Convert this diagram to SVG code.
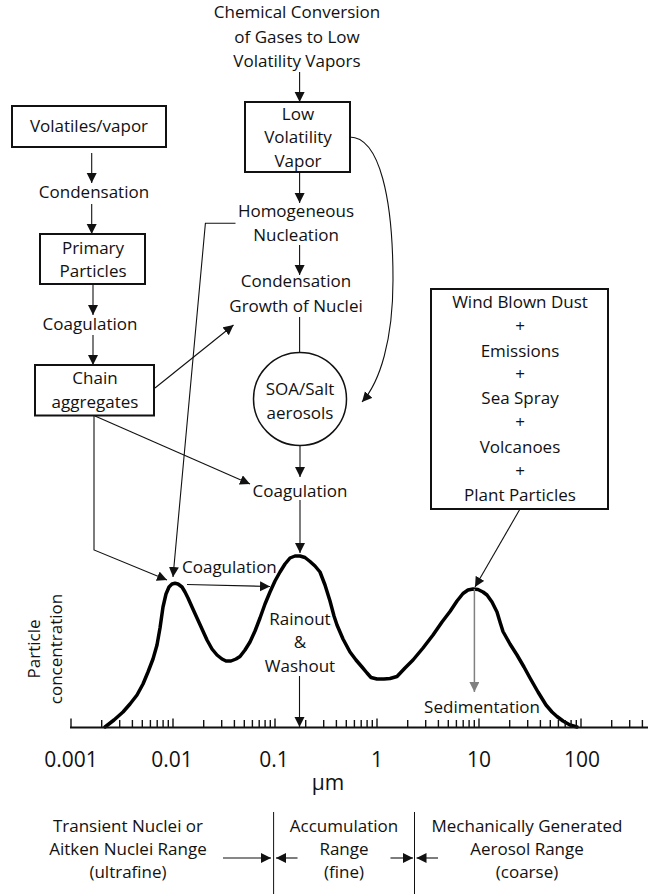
<svg xmlns="http://www.w3.org/2000/svg" width="648" height="894" viewBox="0 0 648 894">
<style>
.t{font-family:"Open Sans","Liberation Sans",sans-serif;font-size:17px;fill:#111;text-anchor:middle}
.s{text-anchor:start}
.num{font-size:21px}
.box{fill:#fff;stroke:#111;stroke-width:2}
.c{fill:none;stroke:#111;stroke-width:1.1}
.ca{fill:none;stroke:#111;stroke-width:1.1;marker-end:url(#ah)}
.g{fill:none;stroke:#808080;stroke-width:1.5;marker-end:url(#ahg)}
.curve{fill:none;stroke:#000;stroke-width:3.5;stroke-linejoin:round;stroke-linecap:round}
</style>
<defs>
<marker id="ah" markerUnits="userSpaceOnUse" markerWidth="10" markerHeight="11" refX="10" refY="5" orient="auto"><path d="M0,0 L10,5 L0,10 z" fill="#111"/></marker>
<marker id="ahg" markerUnits="userSpaceOnUse" markerWidth="10" markerHeight="11" refX="10" refY="5" orient="auto"><path d="M0,0 L10,5 L0,10 z" fill="#808080"/></marker>
</defs>
<rect width="648" height="894" fill="#fff"/>

<g id="chem-conversion">
<text class="t" x="297" y="18">Chemical Conversion</text>
<text class="t" x="297" y="43">of Gases to Low</text>
<text class="t" x="297" y="67">Volatility Vapors</text>
</g>
<g id="low-volatility-vapor">
<rect class="box" x="245" y="102" width="105" height="70"/>
<text class="t" x="298" y="120">Low</text>
<text class="t" x="298" y="143">Volatility</text>
<text class="t" x="298" y="167">Vapor</text>
</g>
<g id="homogeneous-nucleation">
<text class="t" x="296" y="217">Homogeneous</text>
<text class="t" x="296" y="241">Nucleation</text>
</g>
<g id="condensation-growth">
<text class="t" x="296" y="287">Condensation</text>
<text class="t" x="296" y="312">Growth of Nuclei</text>
</g>
<g id="volatiles-vapor">
<rect class="box" x="12" y="106" width="154" height="41"/>
<text class="t" x="89" y="132">Volatiles/vapor</text>
</g>
<g id="condensation-left">
<text class="t" x="94" y="198">Condensation</text>
</g>
<g id="primary-particles">
<rect class="box" x="40" y="234" width="105" height="50"/>
<text class="t" x="93" y="254">Primary</text>
<text class="t" x="93" y="277">Particles</text>
</g>
<g id="coagulation-left">
<text class="t" x="90" y="330">Coagulation</text>
</g>
<g id="chain-aggregates">
<rect class="box" x="35" y="365" width="119" height="50.5"/>
<text class="t" x="95" y="384">Chain</text>
<text class="t" x="95" y="408">aggregates</text>
</g>
<g id="soa-salt">
<circle cx="300" cy="399" r="46.5" fill="#fff" stroke="#111" stroke-width="1.5"/>
<text class="t" x="300" y="395">SOA/Salt</text>
<text class="t" x="300" y="419">aerosols</text>
</g>
<g id="coagulation-mid">
<text class="t" x="300" y="497">Coagulation</text>
</g>
<g id="sources">
<rect class="box" x="431" y="289" width="177" height="220"/>
<text class="t" x="520" y="308">Wind Blown Dust</text>
<text class="t" x="520" y="332">+</text>
<text class="t" x="520" y="357">Emissions</text>
<text class="t" x="520" y="380">+</text>
<text class="t" x="520" y="404">Sea Spray</text>
<text class="t" x="520" y="428">+</text>
<text class="t" x="520" y="453">Volcanoes</text>
<text class="t" x="520" y="477">+</text>
<text class="t" x="520" y="501">Plant Particles</text>
</g>
<g id="coagulation-peak">
<text class="t s" x="182" y="573">Coagulation</text>
</g>
<g id="rainout">
<text class="t" x="300" y="625">Rainout</text>
<text class="t" x="300" y="648">&amp;</text>
<text class="t" x="300" y="672">Washout</text>
</g>
<g id="sedimentation">
<text class="t" x="482" y="713">Sedimentation</text>
</g>
<g id="y-label">
<text class="t" transform="translate(40,649) rotate(-90)">Particle</text>
<text class="t" transform="translate(62,649) rotate(-90)">concentration</text>
</g>

<g id="distribution-curve">
<polyline class="curve" points="105,727 114,720 123,712 130,704 137,695 143,684 148,672 153,659 157,645 160,628 163,607 166,594 169,587 172,584 175,583.3 178,584 182,587 185,592 188,598 192,607 197,618 202,629 207,640 212,649 217,655 222,659 226,661 231,661 236,659 240,656.5 245,650 250,642 255,631 260,618 265,604 270,592 275,581 280,572 285,564 290,558 295,556 300,556 305,557.5 310,561.5 315,566 320,572 325,585 330,601 334,616 337,625 343,639 350,652 356,660 362,667 367,673 371,677.5 377,679 384,679 390,678.5 397,676.5 405,668 413,660 423,648 433,635 442,622 450,611.5 457,601 463,593.5 468,590 473,589 478,589.5 483,592 487,595 492,602 497,612 500,622 503,631.5 510,644 517,655 524,667 530,678 538,692 546,705 552,712 557,716.5 563,721 570,725 577,727"/>
</g>

<g id="axis">
<line x1="70" y1="727.5" x2="648" y2="727.5" stroke="#111" stroke-width="2"/>
<path stroke="#111" stroke-width="1.4" fill="none" d="M71,718.5V727 M173,718.5V727 M275,718.5V727 M377,718.5V727 M479,718.5V727 M581,718.5V727
M101.7,720V727 M119.7,720V727 M132.4,720V727 M142.3,720V727 M150.4,720V727 M157.2,720V727 M163.1,720V727 M168.3,720V727
M203.7,720V727 M221.7,720V727 M234.4,720V727 M244.3,720V727 M252.4,720V727 M259.2,720V727 M265.1,720V727 M270.3,720V727
M305.7,720V727 M323.7,720V727 M336.4,720V727 M346.3,720V727 M354.4,720V727 M361.2,720V727 M367.1,720V727 M372.3,720V727
M407.7,720V727 M425.7,720V727 M438.4,720V727 M448.3,720V727 M456.4,720V727 M463.2,720V727 M469.1,720V727 M474.3,720V727
M509.7,720V727 M527.7,720V727 M540.4,720V727 M550.3,720V727 M558.4,720V727 M565.2,720V727 M571.1,720V727 M576.3,720V727
M611.7,720V727 M629.7,720V727 M642.4,720V727"/>
<text class="t num" x="71" y="767">0.001</text>
<text class="t num" x="172" y="767">0.01</text>
<text class="t num" x="274" y="767">0.1</text>
<text class="t num" x="377" y="767">1</text>
<text class="t num" x="479" y="767">10</text>
<text class="t num" x="582" y="767">100</text>
<text class="t num" x="328" y="790">µm</text>
</g>

<g id="ranges">
<text class="t" x="128" y="832">Transient Nuclei or</text>
<text class="t" x="128" y="855">Aitken Nuclei Range</text>
<text class="t" x="128" y="878">(ultrafine)</text>
<text class="t" x="344" y="832">Accumulation</text>
<text class="t" x="344" y="855">Range</text>
<text class="t" x="344" y="878">(fine)</text>
<text class="t" x="527" y="832">Mechanically Generated</text>
<text class="t" x="527" y="855">Aerosol Range</text>
<text class="t" x="527" y="878">(coarse)</text>
<line x1="273.6" y1="812" x2="273.6" y2="894" stroke="#111" stroke-width="1"/>
<line x1="414.5" y1="812" x2="414.5" y2="894" stroke="#111" stroke-width="1"/>
</g>

<g id="connectors">
<path class="ca" d="M299.6,72 V102"/>
<path class="ca" d="M299.6,172 V203"/>
<path class="ca" d="M299.6,245 V275"/>
<path class="c" d="M299.6,317 V352.5"/>
<path class="ca" d="M349.6,137 C380,137 393,200 393,280 C393,340 380,382 362,402"/>
<path class="ca" d="M235.5,223.3 H205.4 L173,577"/>
<path class="ca" d="M91.7,153 V183"/>
<path class="ca" d="M91.7,204 V234"/>
<path class="ca" d="M93,285 V315"/>
<path class="ca" d="M93,335 V365"/>
<path class="ca" d="M155,388 L233.5,325"/>
<path class="ca" d="M95,416 L250,484"/>
<path class="ca" d="M94,416 V550 L167,580"/>
<path class="ca" d="M300,446 V477"/>
<path class="ca" d="M300,500 V553"/>
<path class="ca" d="M187,584.5 L270,586.5"/>
<path class="ca" d="M520,509 L475,587"/>
<path class="g" d="M474.4,589 V692"/>
<path class="ca" d="M299.5,676 V727"/>
<path class="ca" d="M223,858 H271"/>
<path class="ca" d="M297.5,858 H276"/>
<path class="ca" d="M390.5,858 H413"/>
<path class="ca" d="M438,858 H416.5"/>
</g>
</svg>
